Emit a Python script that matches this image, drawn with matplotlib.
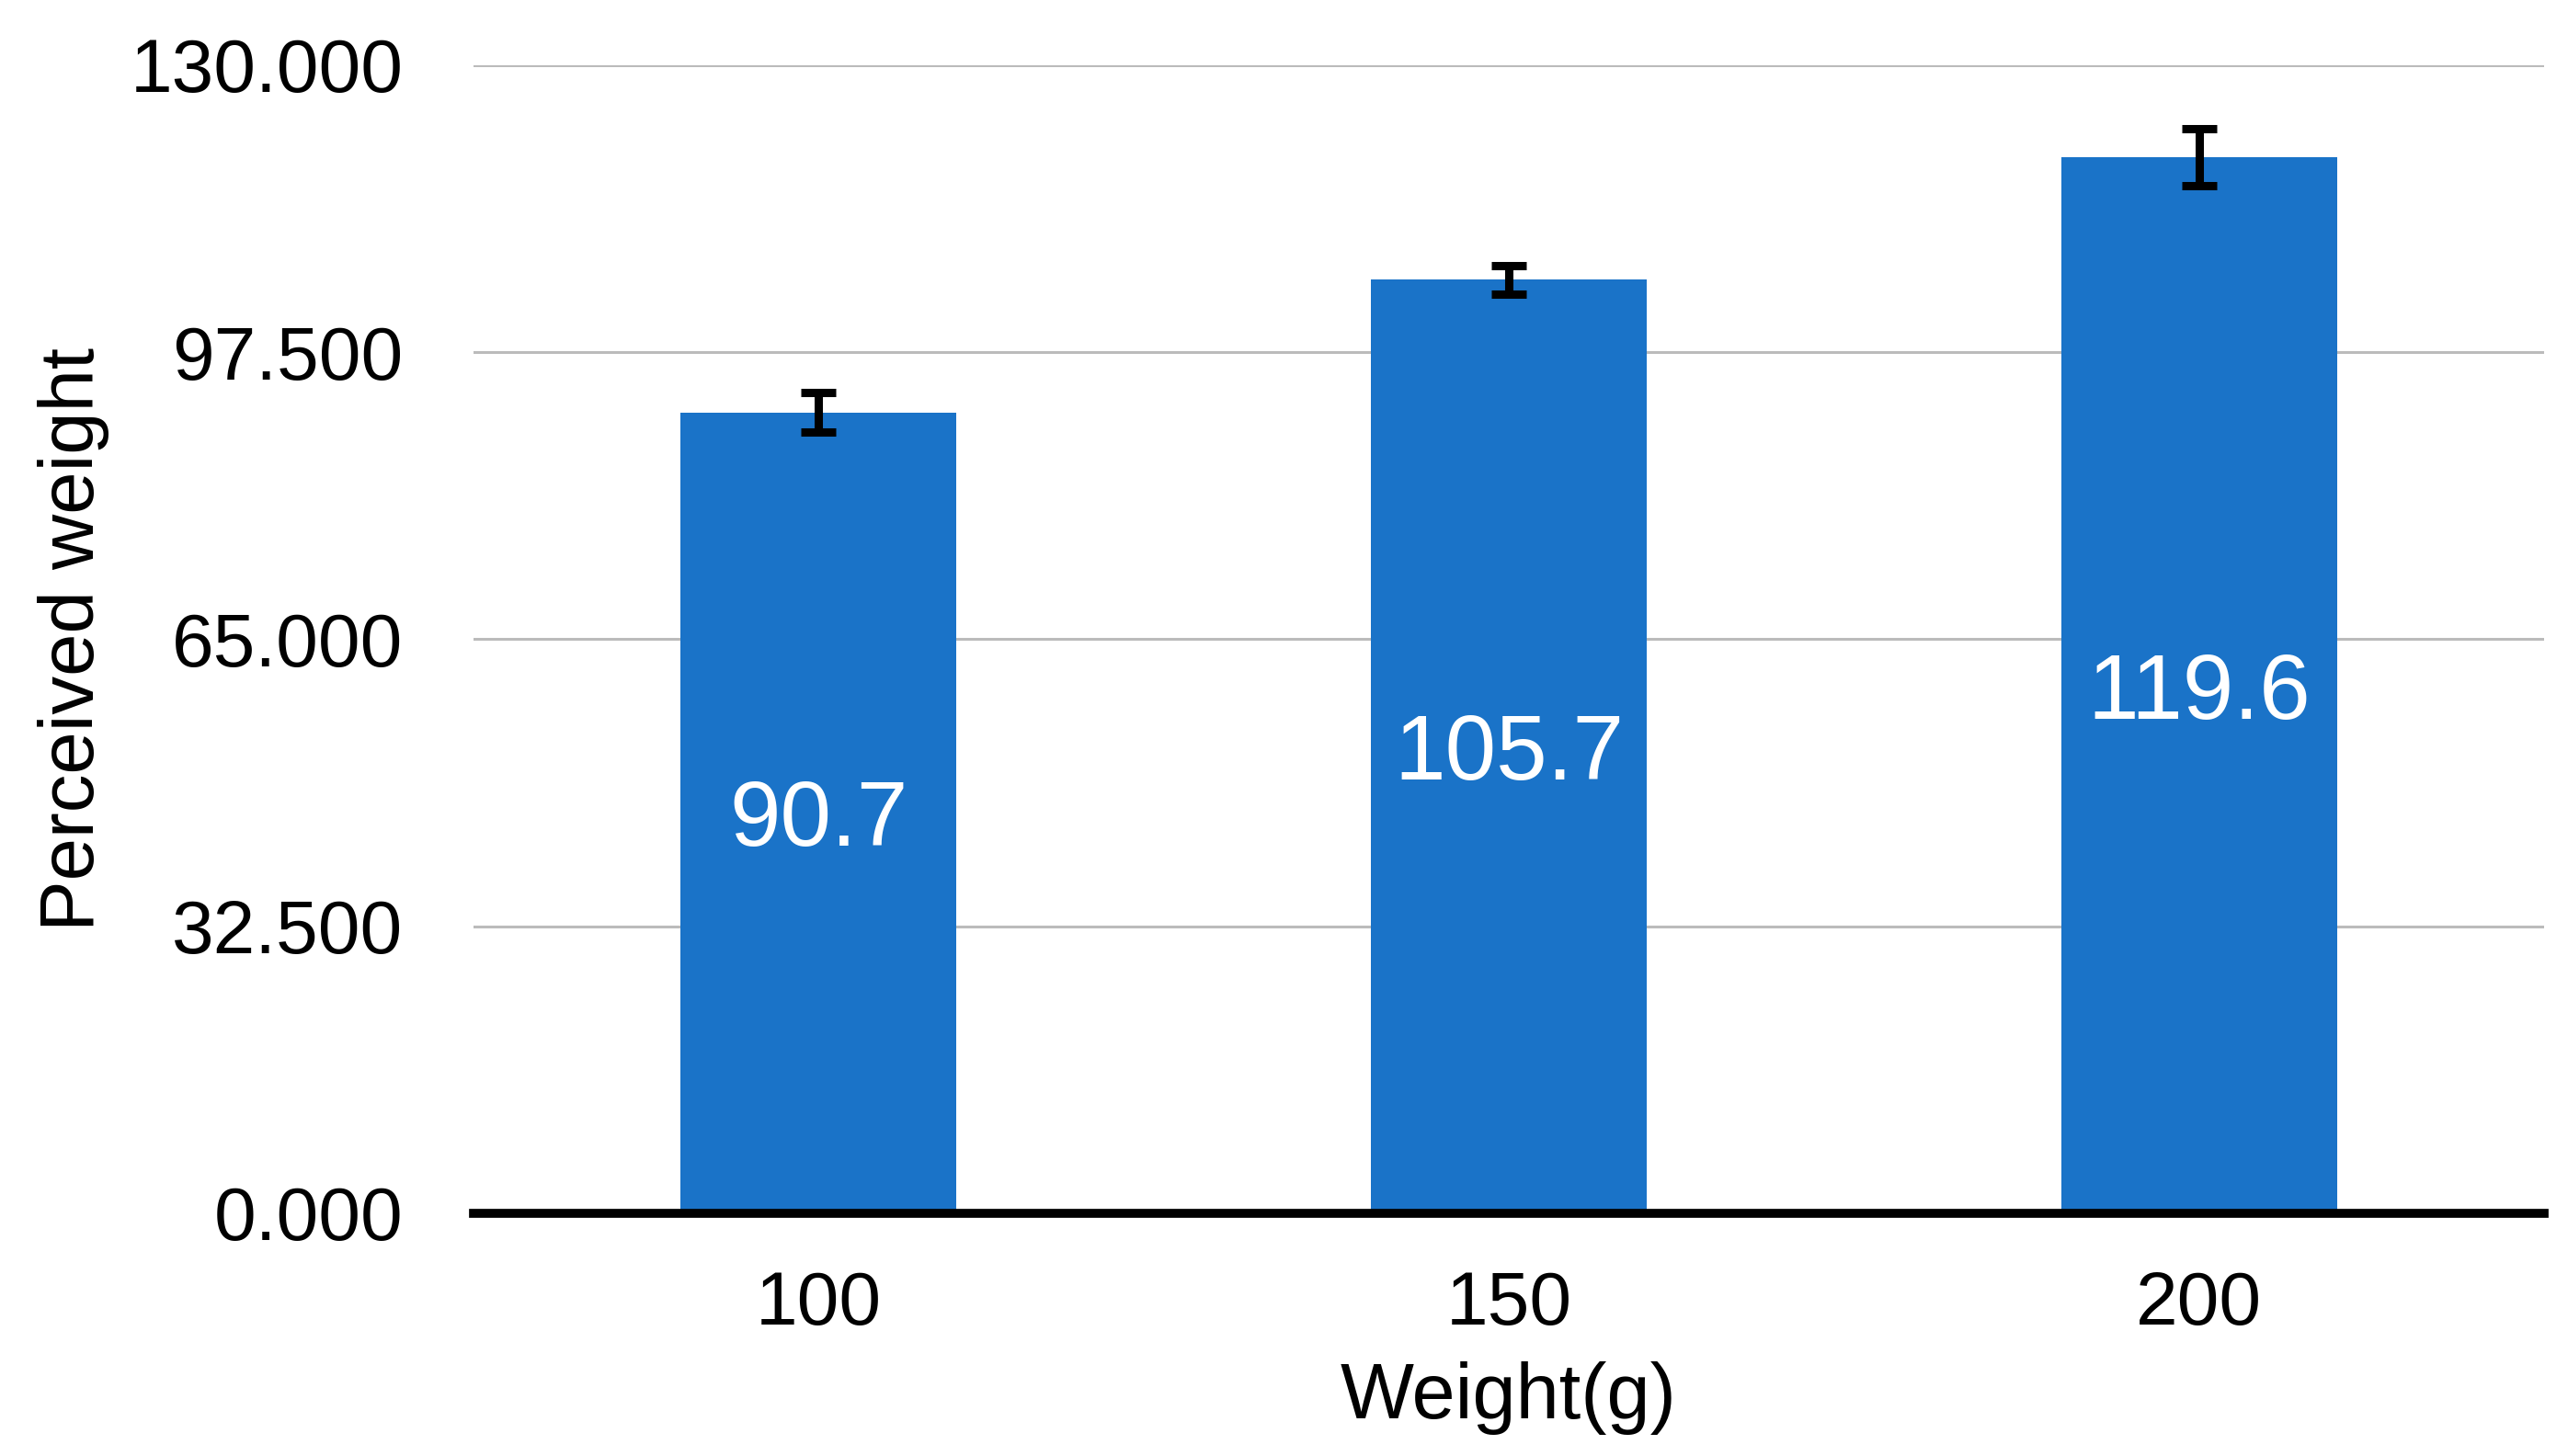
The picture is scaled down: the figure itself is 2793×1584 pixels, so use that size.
import matplotlib
matplotlib.use("Agg")
import matplotlib.pyplot as plt
from matplotlib.ticker import FormatStrFormatter

categories = ["100", "150", "200"]
values = [90.7, 105.7, 119.6]
errors = [2.2, 1.6, 3.2]
yticks = [0, 32.5, 65, 97.5, 130]

plt.rcParams['font.family'] = ['Liberation Sans', 'DejaVu Sans']

fig = plt.figure(figsize=(27.93, 15.84), dpi=100)
ax = fig.add_axes([0.1844, 0.1667, 0.8063, 0.7885])

x = list(range(len(categories)))
bars = ax.bar(x, values, width=0.40, color='#1A73C8', zorder=2)
ax.errorbar(x, values, yerr=errors, fmt='none', ecolor='black',
            elinewidth=6.5, capsize=14, capthick=6.5, zorder=3)
for xi, v in zip(x, values):
    ax.annotate(f"{v:.1f}", xy=(xi, v / 2), xytext=(0, -26),
                textcoords='offset points', ha='center', va='baseline',
                color='white', fontsize=72, zorder=4)

ax.set_xlim(-0.5, len(categories) - 0.5)
ax.set_ylim(0, 130)
ax.set_yticks(yticks)
ax.yaxis.set_major_formatter(FormatStrFormatter('%.3f'))
ax.set_xticks(x)
ax.set_xticklabels(categories)

ax.grid(axis='y', color='#BBBBBB', linewidth=2.2, zorder=0)
ax.set_axisbelow(True)
for s in ['top', 'right', 'left']:
    ax.spines[s].set_visible(False)
ax.spines['bottom'].set_linewidth(7)
ax.spines['bottom'].set_color('black')
ax.spines['bottom'].set_zorder(4)

ax.tick_params(axis='both', length=0, labelsize=59)
ax.tick_params(axis='y', pad=55)
ax.tick_params(axis='x', pad=45)

ax.set_xlabel("Weight(g)", fontsize=61, labelpad=16)
ax.set_ylabel("Perceived weight", fontsize=60, labelpad=16)

fig.savefig("out.png", dpi=100)
